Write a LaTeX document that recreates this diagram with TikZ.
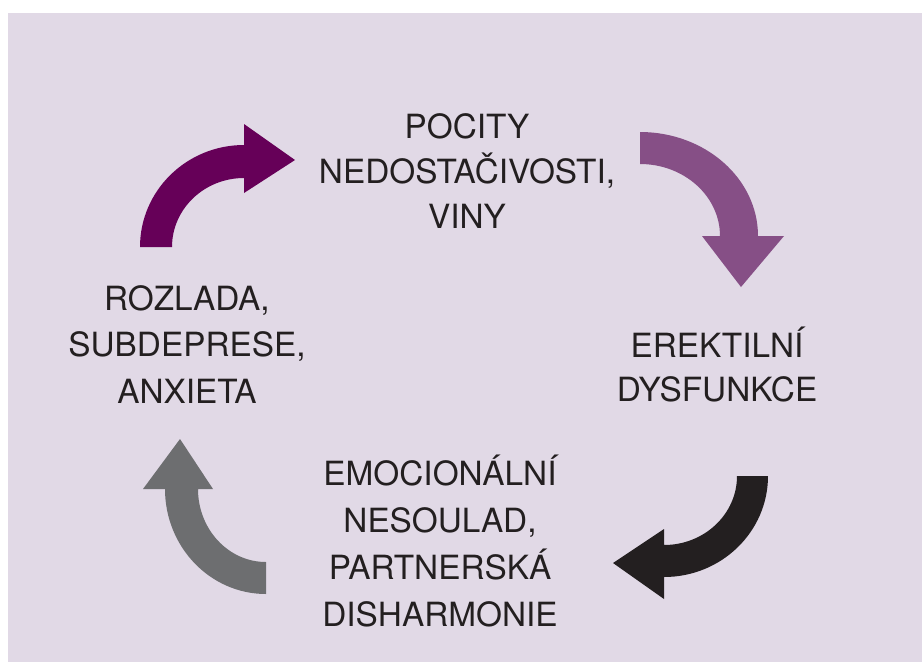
\documentclass[tikz,border=0pt]{standalone}
\usepackage{fontspec}
\setmainfont{TeX Gyre Heros}
\definecolor{bgcol}{HTML}{E1D9E6}
\definecolor{txtcol}{HTML}{231F20}
\definecolor{plumdark}{HTML}{660058}
\definecolor{plumlight}{HTML}{864F86}
\definecolor{arrblack}{HTML}{231F20}
\definecolor{arrgray}{HTML}{6D6E70}

\begin{document}
\begin{tikzpicture}[x=0.75pt,y=-0.75pt,
    lbl/.style={align=center,text=txtcol,inner sep=0pt}]
  \useasboundingbox (0,0) rectangle (922,662);
  \fill [bgcol] (8,13) rectangle (922,662);
  % curved arrows of the cycle
  \fill [plumdark] (140,247) arc [start angle=180, end angle=270, x radius=104, y radius=102]
    -- (244,124) -- (295,160) -- (244,193) -- (244,178)
    arc [start angle=270, end angle=180, x radius=72, y radius=69] -- cycle;
  \fill [plumlight] (640,132) arc [start angle=270, end angle=360, x radius=118, y radius=104]
    -- (784,236) -- (741,287) -- (702,236) -- (720,236)
    arc [start angle=360, end angle=270, x radius=80, y radius=72] -- cycle;
  \fill [arrblack] (768,476) arc [start angle=0, end angle=90, x radius=104, y radius=101]
    -- (664,599) -- (613,563) -- (664,529) -- (664,545)
    arc [start angle=90, end angle=0, x radius=73, y radius=69] -- cycle;
  \fill [arrgray] (266,594) arc [start angle=90, end angle=180, x radius=101, y radius=105]
    -- (143,489) -- (180,439) -- (213,489) -- (198,489)
    arc [start angle=180, end angle=90, x radius=68, y radius=73] -- cycle;
  % labels
  \node (pocity) [lbl, font=\fontsize{25}{33.75}\selectfont] at (467,171)
    {POCITY\\NEDOSTAČIVOSTI,\\VINY};
  \node (erekce) [lbl, font=\fontsize{25}{33}\selectfont] at (717,365)
    {EREKTILNÍ\\DYSFUNKCE};
  \node (nesoulad) [lbl, font=\fontsize{25}{35.25}\selectfont] at (440,541)
    {EMOCIONÁLNÍ\\NESOULAD,\\PARTNERSKÁ\\DISHARMONIE};
  \node (rozlada) [lbl, font=\fontsize{25}{34.9}\selectfont] at (187,344.5)
    {ROZLADA,\\SUBDEPRESE,\\ANXIETA};
\end{tikzpicture}
\end{document}
